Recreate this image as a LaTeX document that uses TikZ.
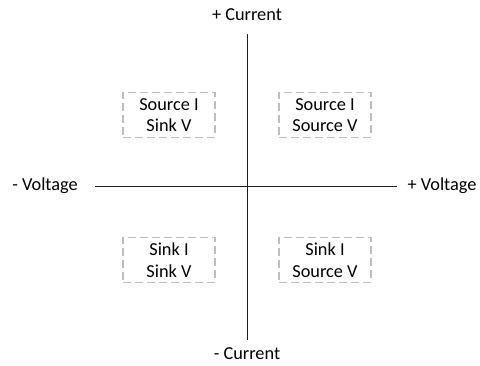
\documentclass[tikz,border=0pt]{standalone}
\usepackage{fontspec}
\setmainfont{Carlito}
\definecolor{boxgray}{RGB}{190,190,190}
\definecolor{axisgray}{RGB}{30,30,30}
\begin{document}
\begin{tikzpicture}[x=1pt,y=1pt,
  lbl/.style={font=\fontsize{18.3}{21.7}\selectfont, inner sep=0pt},
  quad/.style={draw=boxgray, line width=1.2pt, dash pattern=on 8pt off 4pt,
    minimum width=92pt, minimum height=45pt, inner sep=0pt, align=center,
    font=\fontsize{18.3}{21.7}\selectfont},
  axis/.style={draw=axisgray, line width=0.9pt}]
\useasboundingbox (0,0) rectangle (480,366);
% axis end points
\coordinate (top) at (247,332);
\coordinate (bot) at (247,26);
\coordinate (lft) at (95,180);
\coordinate (rgt) at (397,180);
\draw[axis] (top) -- (bot);
\draw[axis] (lft) -- (rgt);
% axis labels
\node[lbl] (pc) at (247,351) {+ Current};
\node[lbl] (mc) at (247,12) {- Current};
\node[lbl] (mv) at (45,180) {- Voltage};
\node[lbl] (pv) at (442,180) {+ Voltage};
% quadrant boxes
\node[quad] (q2) at (169,251) {Source I\\Sink V};
\node[quad] (q1) at (325,251) {Source I\\Source V};
\node[quad] (q3) at (169,106) {Sink I\\Sink V};
\node[quad] (q4) at (325,106) {Sink I\\Source V};
\end{tikzpicture}
\end{document}
